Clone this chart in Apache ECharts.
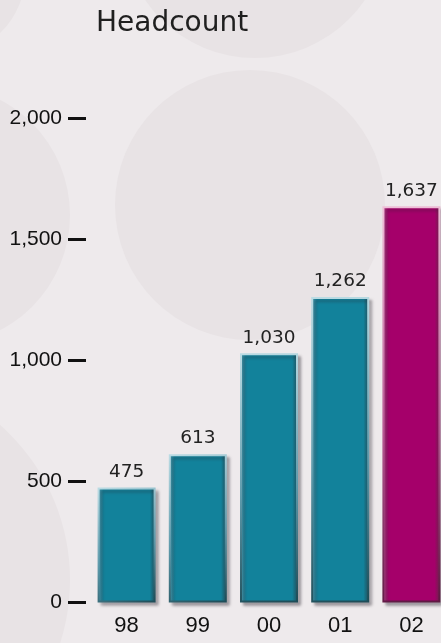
<!DOCTYPE html>
<html>
<head>
<meta charset="utf-8">
<script src="https://cdn.jsdelivr.net/npm/echarts@6/dist/echarts.min.js"></script>
<style>
  html, body { margin: 0; padding: 0; background: #efeaed; }
  #main { width: 441px; height: 643px; }
</style>
</head>
<body>
<div id="main"></div>
<script>
var years = ['98', '99', '00', '01', '02'];
var headcount = [475, 613, 1030, 1262, 1637];
var yTicks = [0, 500, 1000, 1500, 2000];
var highlightYear = '02';

var tealFill = new echarts.graphic.LinearGradient(0, 0, 1, 0, [
    { offset: 0, color: '#5d9eb0' },
    { offset: 0.06, color: '#2c8ba1' },
    { offset: 0.1, color: '#12829b' },
    { offset: 0.9, color: '#12829b' },
    { offset: 0.95, color: '#1b6577' },
    { offset: 1, color: '#1b5563' }
]);
var tealEdge = new echarts.graphic.LinearGradient(0, 0, 1, 1, [
    { offset: 0, color: '#bcdce4' },
    { offset: 0.55, color: '#5e9aab' },
    { offset: 1, color: '#1d4b56' }
]);
var pinkFill = new echarts.graphic.LinearGradient(0, 0, 1, 0, [
    { offset: 0, color: '#c0649c' },
    { offset: 0.06, color: '#a52073' },
    { offset: 0.1, color: '#a5006a' },
    { offset: 0.9, color: '#a5006a' },
    { offset: 0.95, color: '#861259' },
    { offset: 1, color: '#6f1a4e' }
]);
var pinkEdge = new echarts.graphic.LinearGradient(0, 0, 1, 1, [
    { offset: 0, color: '#efc0d8' },
    { offset: 0.55, color: '#b85a94' },
    { offset: 1, color: '#5e1842' }
]);

var barData = headcount.map(function (v, i) {
    var hi = years[i] === highlightYear;
    return {
        value: v,
        itemStyle: {
            color: hi ? pinkFill : tealFill,
            borderColor: hi ? pinkEdge : tealEdge
        }
    };
});

var myChart = echarts.init(document.getElementById('main'), null, { renderer: 'canvas' });
var option = {
    backgroundColor: '#eeeaec',
    animation: false,
    title: {
        text: 'Headcount',
        left: 91,
        top: 5,
        textStyle: {
            fontFamily: 'DejaVu Sans',
            fontSize: 28,
            fontWeight: 'normal',
            color: '#1f1f1f'
        }
    },
    // faint decorative discs behind the chart
    graphic: [
        { type: 'circle', z: -10, silent: true, shape: { cx: 255, cy: -75, r: 133 }, style: { fill: '#e8e3e5' } },
        { type: 'circle', z: -10, silent: true, shape: { cx: 250, cy: 205, r: 135 }, style: { fill: '#e8e3e5' } },
        { type: 'circle', z: -10, silent: true, shape: { cx: -60, cy: 215, r: 130 }, style: { fill: '#e8e3e5' } },
        { type: 'circle', z: -10, silent: true, shape: { cx: -137, cy: 580, r: 207 }, style: { fill: '#e8e3e5' } },
        { type: 'circle', z: -10, silent: true, shape: { cx: -55, cy: -25, r: 80 }, style: { fill: '#e8e3e5' } }
    ],
    grid: {
        left: 91,
        width: 356,
        top: 118.5,
        bottom: 40.5,
        containLabel: false,
        outerBoundsMode: 'none'
    },
    xAxis: {
        type: 'category',
        data: years,
        axisLine: { show: false },
        axisTick: { show: false },
        axisLabel: {
            margin: 12,
            fontFamily: 'Liberation Sans',
            fontSize: 22,
            color: '#111'
        }
    },
    yAxis: {
        type: 'value',
        min: yTicks[0],
        max: yTicks[yTicks.length - 1],
        interval: yTicks[1] - yTicks[0],
        offset: 5,
        splitLine: { show: false },
        axisLine: { show: false },
        axisTick: {
            show: true,
            length: 18,
            lineStyle: { color: '#111', width: 3 }
        },
        axisLabel: {
            margin: 24,
            fontFamily: 'Liberation Sans',
            fontSize: 21,
            color: '#111',
            formatter: function (v) { return v.toLocaleString('en-US'); }
        }
    },
    series: [
        {
            type: 'bar',
            data: barData,
            barWidth: 58,
            itemStyle: {
                borderWidth: 2,
                shadowColor: 'rgba(40, 35, 45, 0.35)',
                shadowBlur: 3,
                shadowOffsetX: 3,
                shadowOffsetY: 3
            },
            label: {
                show: true,
                position: 'top',
                distance: 6,
                fontFamily: 'DejaVu Sans',
                fontSize: 18.5,
                color: '#222',
                formatter: function (p) { return p.value.toLocaleString('en-US'); }
            }
        }
    ]
};
myChart.setOption(option);
</script>
</body>
</html>
